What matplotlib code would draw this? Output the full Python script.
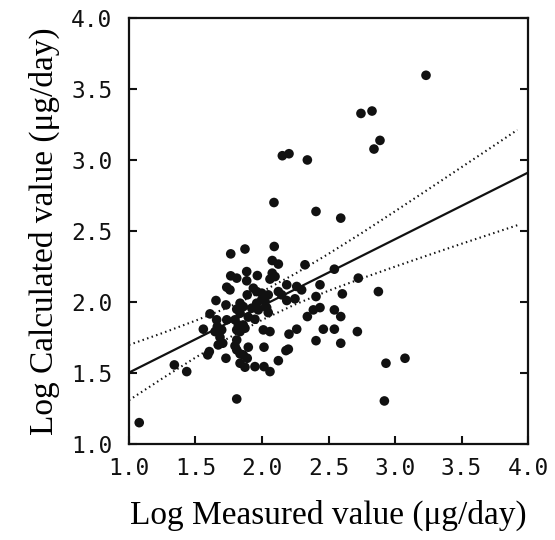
import matplotlib.pyplot as plt

# measured (x) and calculated (y) values, log scale
measured = [1.765, 1.872, 2.092, 2.077, 2.123, 2.323, 2.544, 1.765, 1.810, 1.885,
            1.965, 2.077, 2.098, 2.060, 1.885, 2.186, 2.261, 2.298, 2.436, 2.724,
            1.735, 1.759, 1.935, 1.960, 1.889, 1.998, 2.047, 2.123, 2.148, 2.406,
            2.604, 1.654, 1.729, 1.835, 1.859, 1.810, 1.835, 1.960, 1.998, 2.023,
            2.186, 2.248, 1.923, 1.972, 2.035, 2.047, 2.386, 2.436, 2.544, 2.341,
            2.592, 1.609, 1.659, 1.735, 1.897, 1.947, 1.797, 1.822, 1.559, 1.664,
            1.697, 1.647, 1.859, 1.872, 1.835, 1.810, 2.010, 2.060, 2.261, 2.203,
            2.461, 2.544, 2.717, 1.684, 1.705, 1.671, 1.810, 1.797, 2.406, 2.592,
            1.897, 2.015, 2.198, 2.180, 1.604, 1.592, 1.810, 1.835, 1.859, 1.729,
            1.889, 2.123, 1.835, 1.872, 1.947, 2.015, 2.060, 1.341, 1.434, 1.810,
            3.233, 2.744, 2.827, 2.887, 2.842, 2.153, 2.203, 2.341, 2.090, 2.406,
            2.592, 2.875, 2.932, 3.075, 2.920, 1.077]
calculated = [2.337, 2.371, 2.389, 2.290, 2.265, 2.260, 2.229, 2.182, 2.166, 2.212,
              2.184, 2.201, 2.177, 2.159, 2.147, 2.119, 2.107, 2.083, 2.119, 2.166,
              2.102, 2.083, 2.095, 2.071, 2.048, 2.060, 2.048, 2.071, 2.048, 2.036,
              2.055, 2.008, 1.977, 1.989, 1.965, 1.947, 1.919, 1.989, 2.013, 2.001,
              2.008, 2.020, 1.954, 1.942, 1.958, 1.923, 1.942, 1.958, 1.942, 1.895,
              1.895, 1.914, 1.872, 1.872, 1.891, 1.876, 1.872, 1.836, 1.806, 1.824,
              1.801, 1.789, 1.836, 1.813, 1.789, 1.801, 1.801, 1.789, 1.806, 1.771,
              1.806, 1.806, 1.789, 1.749, 1.707, 1.695, 1.730, 1.688, 1.725, 1.707,
              1.679, 1.679, 1.665, 1.655, 1.648, 1.625, 1.660, 1.632, 1.625, 1.601,
              1.601, 1.584, 1.566, 1.538, 1.542, 1.542, 1.507, 1.554, 1.507, 1.314,
              3.596, 3.327, 3.344, 3.137, 3.076, 3.029, 3.043, 2.999, 2.699, 2.636,
              2.589, 2.071, 1.566, 1.601, 1.300, 1.147]

# regression line
fit_x = [1.0, 4.0]
fit_y = [1.50, 2.91]

# confidence band (dotted)
band_x = [1.0, 1.25, 1.5, 1.75, 2.0, 2.25, 2.5, 2.75, 3.0, 3.25, 3.5, 3.75, 3.92]
band_upper = [1.695, 1.778, 1.866, 1.961, 2.071, 2.197, 2.337, 2.484, 2.637, 2.792, 2.948, 3.104, 3.211]
band_lower = [1.305, 1.458, 1.606, 1.745, 1.871, 1.981, 2.077, 2.164, 2.247, 2.328, 2.408, 2.486, 2.539]

ticks = [1.0, 1.5, 2.0, 2.5, 3.0, 3.5, 4.0]
tick_labels = ["1.0", "1.5", "2.0", "2.5", "3.0", "3.5", "4.0"]

fig = plt.figure(figsize=(5.55, 5.4), dpi=100)
ax = fig.add_axes([0.2324, 0.1787, 0.7190, 0.788])

ax.scatter(measured, calculated, s=48, color="#111111", edgecolors="none", zorder=3)
ax.plot(fit_x, fit_y, color="#111111", lw=1.6)
ax.plot(band_x, band_upper, color="#111111", lw=1.5, linestyle=(0, (0.7, 1.6)))
ax.plot(band_x, band_lower, color="#111111", lw=1.5, linestyle=(0, (0.7, 1.6)))

ax.set_xlim(1.0, 4.0)
ax.set_ylim(1.0, 4.0)

tick_font = {"family": "DejaVu Sans Mono", "size": 16.5}
ax.set_xticks(ticks)
ax.set_xticklabels(tick_labels, fontdict=tick_font)
ax.set_yticks(ticks)
ax.set_yticklabels(tick_labels, fontdict=tick_font)
ax.tick_params(axis="both", direction="in", length=6, width=1.5, colors="#111111")
ax.tick_params(axis="x", pad=10)
ax.tick_params(axis="y", pad=12, right=True)

for side in ax.spines.values():
    side.set_linewidth(1.6)
    side.set_color("#111111")

label_font = {"family": "Liberation Serif", "size": 24}
ax.set_xlabel("Log Measured value (μg/day)", fontdict=label_font, labelpad=14)
ax.set_ylabel("Log Calculated value (μg/day)", fontdict=label_font, labelpad=8)

fig.savefig("out.png", dpi=100)
